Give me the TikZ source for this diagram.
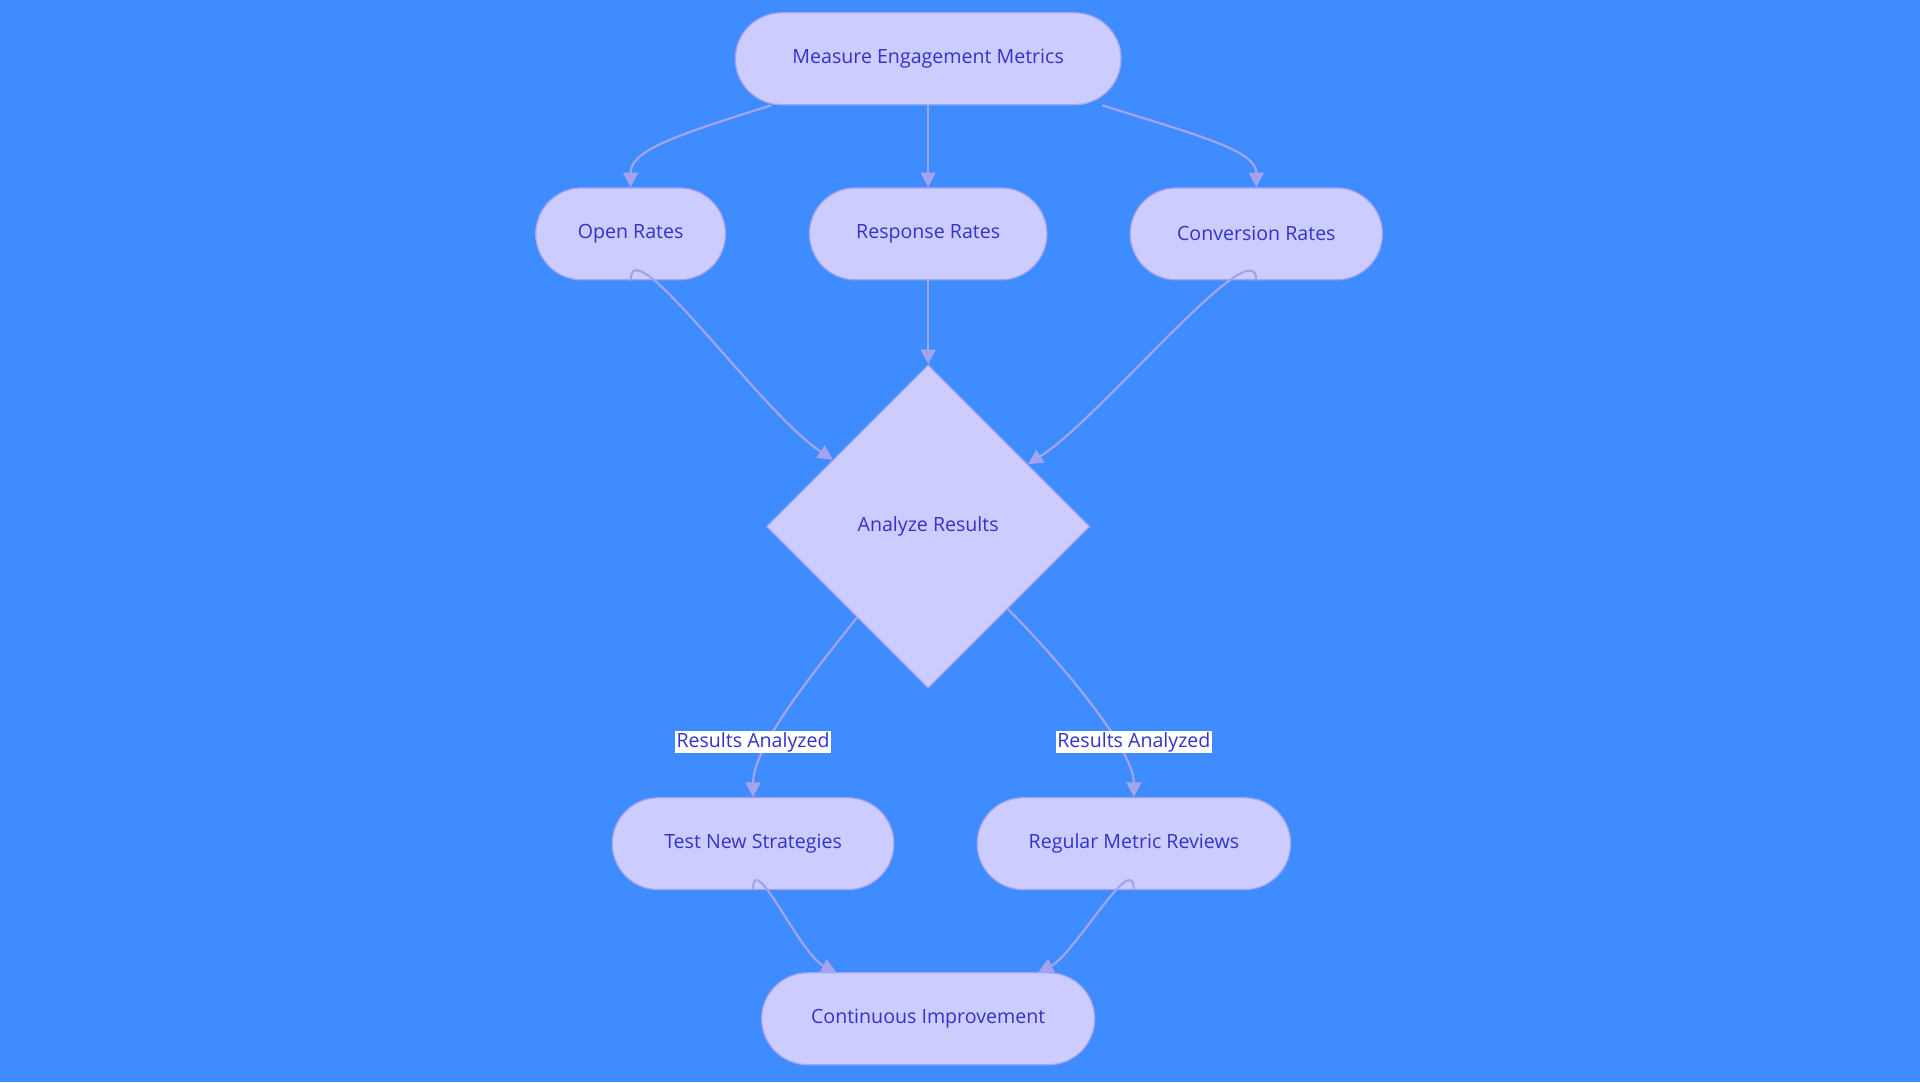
\documentclass[tikz,border=0pt]{standalone}
\usepackage{fontspec}
\setmainfont{Open Sans}
\usetikzlibrary{shapes.geometric,shapes.misc,arrows.meta}
\definecolor{bg}{HTML}{3F8CFF}
\definecolor{nf}{HTML}{CCCCFF}
\definecolor{ns}{HTML}{A3A3EE}
\definecolor{tx}{HTML}{3333CC}
\begin{document}
\begin{tikzpicture}[x=1pt,y=1pt,
  box/.style={rounded rectangle,fill=nf,draw=ns,line width=1pt,minimum height=75pt,inner sep=0pt,text=tx,font=\fontsize{16}{18}\selectfont},
  dia/.style={diamond,aspect=1,fill=nf,draw=ns,line width=1pt,minimum width=264pt,minimum height=264pt,inner sep=0pt,text=tx,font=\fontsize{16}{18}\selectfont},
  lab/.style={fill=white,text=tx,inner sep=1pt,font=\fontsize{16}{18}\selectfont},
  arr/.style={draw=ns,line width=1.8pt,-{Triangle[length=12pt,width=12pt]}}]
\useasboundingbox (0,0) rectangle (1568,884);
\fill[bg] (0,0) rectangle (1568,884);
\node[box,minimum width=315pt] (m) at (758,836) {Measure Engagement Metrics};
\node[box,minimum width=155pt] (o) at (515,693) {Open Rates};
\node[box,minimum width=194pt] (r) at (758,693) {Response Rates};
\node[box,minimum width=206pt] (c) at (1026,693) {Conversion Rates};
\node[dia] (d) at (758,454) {Analyze Results};
\node[box,minimum width=230pt] (t) at (615,195) {Test New Strategies};
\node[box,minimum width=256pt] (g) at (926,195) {Regular Metric Reviews};
\node[box,minimum width=272pt] (k) at (758,52) {Continuous Improvement};
\draw[arr] ([xshift=-128pt]m.south) .. controls +(-80,-25) and +(0,30) .. (o.north);
\draw[arr] (m.south) -- (r.north);
\draw[arr] ([xshift=142pt]m.south) .. controls +(80,-25) and +(0,30) .. (c.north);
\draw[arr] (o.south) .. controls +(0,45) and +(-60,40) .. (d.145);
\draw[arr] (r.south) -- (d.north);
\draw[arr] (c.south) .. controls +(0,45) and +(60,38) .. (d.32);
\draw[arr] (d.232) .. controls +(-40,-50) and +(0,40) .. (t.north);
\draw[arr] (d.314) .. controls +(40,-40) and +(0,40) .. (g.north);
\draw[arr] (t.south) .. controls +(0,35) and +(-30,15) .. ([xshift=-75pt]k.north);
\draw[arr] (g.south) .. controls +(0,35) and +(30,15) .. ([xshift=90pt]k.north);
\node[lab] (l1) at (615,278) {Results Analyzed};
\node[lab] (l2) at (926,278) {Results Analyzed};
\end{tikzpicture}
\end{document}
